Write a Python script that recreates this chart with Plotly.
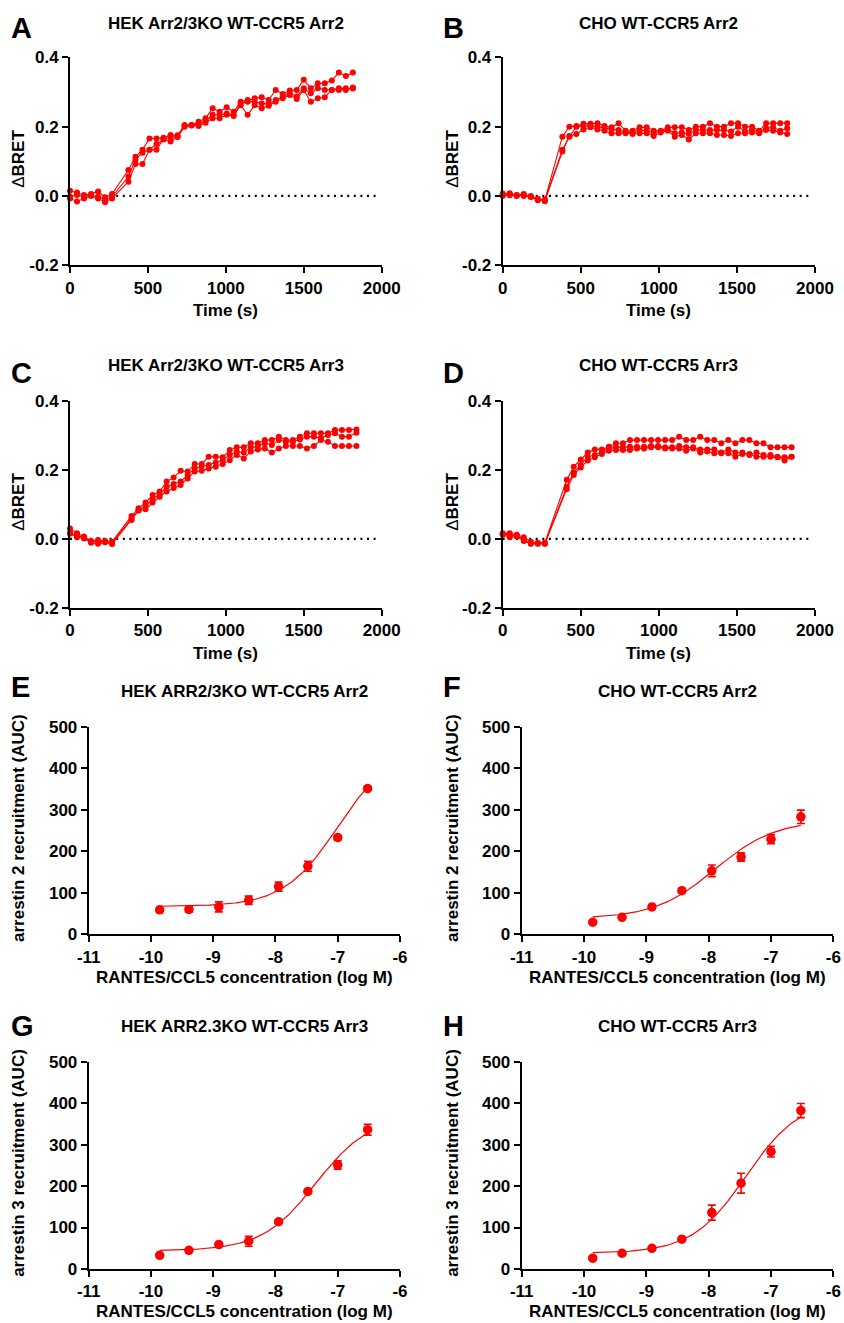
import numpy as np
import plotly.graph_objects as go

W, H = 844, 1323
RED = "#FF0000"
FONT = "Liberation Sans, Arial, sans-serif"

# ---------------- time-course data (time in s, delta BRET) ----------------
A_time = [0, 45, 90, 135, 180, 225, 270, 375, 420, 465, 510, 555, 600, 645, 690, 735, 780, 825, 870,
          915, 960, 1005, 1050, 1095, 1140, 1185, 1230, 1275, 1320, 1365, 1410, 1455, 1500, 1545,
          1590, 1635, 1680, 1725, 1770, 1815]
A_rep1 = [0.015, 0.010, 0.003, 0.006, 0.013, -0.004, 0.006,
          0.075, 0.113, 0.133, 0.166, 0.166, 0.168, 0.176, 0.175, 0.205, 0.205, 0.214, 0.224, 0.253,
          0.243, 0.256, 0.243, 0.272, 0.277, 0.282, 0.285, 0.277, 0.306, 0.294, 0.304, 0.306, 0.335,
          0.311, 0.325, 0.325, 0.333, 0.356, 0.346, 0.356]
A_rep2 = [-0.002, 0.003, -0.002, 0.003, -0.002, -0.010, -0.002,
          0.056, 0.104, 0.125, 0.133, 0.133, 0.165, 0.157, 0.171, 0.202, 0.203, 0.208, 0.217, 0.234,
          0.234, 0.238, 0.234, 0.267, 0.272, 0.272, 0.267, 0.265, 0.277, 0.287, 0.296, 0.287, 0.311,
          0.296, 0.311, 0.306, 0.306, 0.306, 0.306, 0.313]
A_rep3 = [-0.007, -0.016, -0.007, 0.000, -0.007, -0.018, -0.007,
          0.041, 0.092, 0.092, 0.133, 0.150, 0.163, 0.171, 0.170, 0.200, 0.204, 0.202, 0.211, 0.224,
          0.224, 0.234, 0.231, 0.262, 0.234, 0.262, 0.253, 0.260, 0.272, 0.282, 0.291, 0.280, 0.306,
          0.272, 0.282, 0.285, 0.306, 0.311, 0.311, 0.310]

B_time = [0, 45, 90, 135, 180, 225, 270, 382, 427, 472, 517, 562, 607, 652, 697, 742, 787, 832, 877,
          922, 967, 1012, 1057, 1102, 1147, 1192, 1237, 1282, 1327, 1372, 1417, 1462, 1507, 1552,
          1597, 1642, 1687, 1732, 1777, 1822]
B_rep1 = [0.007, 0.008, 0.002, 0.006, -0.003, -0.010, -0.012,
          0.171, 0.200, 0.202, 0.208, 0.208, 0.210, 0.202, 0.198, 0.210, 0.188, 0.188, 0.198, 0.198,
          0.188, 0.188, 0.198, 0.198, 0.198, 0.190, 0.200, 0.200, 0.210, 0.200, 0.200, 0.210, 0.210,
          0.200, 0.200, 0.188, 0.210, 0.210, 0.210, 0.210]
B_rep2 = [0.003, 0.005, 0.000, 0.002, -0.002, -0.012, -0.010,
          0.133, 0.171, 0.200, 0.202, 0.203, 0.200, 0.195, 0.192, 0.190, 0.183, 0.183, 0.190, 0.188,
          0.183, 0.186, 0.192, 0.181, 0.183, 0.179, 0.190, 0.190, 0.190, 0.190, 0.190, 0.186, 0.200,
          0.186, 0.190, 0.186, 0.195, 0.198, 0.188, 0.195]
B_rep3 = [0.000, 0.002, 0.003, 0.000, 0.000, -0.008, -0.015,
          0.128, 0.173, 0.179, 0.192, 0.198, 0.192, 0.188, 0.181, 0.181, 0.181, 0.179, 0.181, 0.181,
          0.173, 0.183, 0.188, 0.171, 0.176, 0.163, 0.181, 0.181, 0.181, 0.176, 0.176, 0.173, 0.181,
          0.181, 0.183, 0.181, 0.190, 0.188, 0.183, 0.179]

C_time = [0, 45, 90, 135, 180, 225, 270, 395, 440, 485, 530, 575, 620, 665, 710, 755, 800, 845, 890,
          935, 980, 1025, 1070, 1115, 1160, 1205, 1250, 1295, 1340, 1385, 1430, 1475, 1520, 1565,
          1610, 1655, 1700, 1745, 1790, 1838]
C_rep1 = [0.030, 0.016, 0.007, -0.006, -0.003, -0.006, -0.008,
          0.066, 0.089, 0.105, 0.127, 0.137, 0.166, 0.178, 0.197, 0.195, 0.217, 0.217, 0.238, 0.238,
          0.236, 0.257, 0.265, 0.265, 0.277, 0.277, 0.286, 0.286, 0.296, 0.286, 0.286, 0.296, 0.306,
          0.306, 0.306, 0.306, 0.315, 0.315, 0.315, 0.317]
C_rep2 = [0.018, 0.010, 0.003, -0.009, -0.009, -0.008, -0.011,
          0.060, 0.084, 0.095, 0.115, 0.130, 0.151, 0.159, 0.166, 0.185, 0.204, 0.209, 0.214, 0.221,
          0.228, 0.243, 0.253, 0.250, 0.265, 0.267, 0.277, 0.272, 0.286, 0.281, 0.281, 0.288, 0.296,
          0.296, 0.291, 0.301, 0.306, 0.296, 0.296, 0.307]
C_rep3 = [0.015, 0.005, 0.001, -0.011, -0.014, -0.010, -0.015,
          0.055, 0.082, 0.086, 0.105, 0.122, 0.137, 0.147, 0.156, 0.175, 0.195, 0.197, 0.204, 0.209,
          0.217, 0.228, 0.243, 0.233, 0.253, 0.259, 0.262, 0.250, 0.262, 0.269, 0.269, 0.269, 0.262,
          0.269, 0.286, 0.281, 0.269, 0.269, 0.269, 0.269]

D_time = [0, 45, 90, 135, 180, 225, 270, 410, 455, 500, 545, 590, 635, 680, 725, 770, 815, 860, 905,
          950, 995, 1040, 1085, 1130, 1175, 1220, 1265, 1310, 1355, 1400, 1445, 1490, 1535, 1580,
          1625, 1670, 1715, 1760, 1805, 1850]
D_rep1 = [0.016, 0.016, 0.012, 0.005, -0.008, -0.011, -0.011,
          0.171, 0.209, 0.230, 0.250, 0.259, 0.259, 0.267, 0.277, 0.277, 0.286, 0.286, 0.286, 0.286,
          0.286, 0.286, 0.286, 0.296, 0.286, 0.286, 0.296, 0.286, 0.286, 0.277, 0.286, 0.277, 0.286,
          0.286, 0.277, 0.277, 0.265, 0.265, 0.265, 0.265]
D_rep2 = [0.013, 0.012, 0.009, -0.001, -0.013, -0.013, -0.013,
          0.151, 0.192, 0.214, 0.238, 0.243, 0.253, 0.262, 0.265, 0.265, 0.267, 0.267, 0.267, 0.269,
          0.269, 0.265, 0.265, 0.269, 0.265, 0.265, 0.259, 0.259, 0.259, 0.250, 0.259, 0.250, 0.250,
          0.243, 0.250, 0.243, 0.243, 0.238, 0.236, 0.238]
D_rep3 = [0.012, 0.005, 0.007, -0.006, -0.014, -0.014, -0.014,
          0.144, 0.185, 0.207, 0.227, 0.236, 0.246, 0.255, 0.257, 0.257, 0.257, 0.262, 0.262, 0.265,
          0.265, 0.262, 0.262, 0.262, 0.255, 0.262, 0.250, 0.253, 0.248, 0.248, 0.248, 0.238, 0.246,
          0.246, 0.238, 0.238, 0.238, 0.236, 0.227, 0.238]

# ---------------- concentration-response data ----------------
log_conc = [-9.86, -9.39, -8.91, -8.43, -7.95, -7.48, -7.0, -6.52]
E_mean = [59, 60, 66, 82, 115, 164, 233, 351]
E_err = [3, 6, 12, 10, 11, 12, 5, 4]
F_mean = [29, 41, 66, 105, 153, 186, 229, 283]
F_err = [3, 3, 4, 4, 14, 10, 11, 16]
G_mean = [33, 45, 59, 67, 114, 187, 251, 336]
G_err = [3, 3, 4, 12, 4, 4, 10, 13]
H_mean = [26, 38, 50, 72, 136, 207, 283, 382]
H_err = [3, 3, 3, 4, 18, 24, 13, 17]

# fitted 4-parameter logistic curves: bottom, top, logEC50, hill
E_fit = [67, 450, -7.0, 1.0]
F_fit = [38, 275, -7.9, 0.9]
G_fit = [44, 370, -7.35, 1.0]
H_fit = [38, 410, -7.4, 1.0]

# ---------------- text ----------------
time_titles = ["HEK Arr2/3KO WT-CCR5 Arr2", "CHO WT-CCR5 Arr2",
               "HEK Arr2/3KO WT-CCR5 Arr3", "CHO WT-CCR5 Arr3"]
dose_titles = ["HEK ARR2/3KO WT-CCR5 Arr2", "CHO WT-CCR5 Arr2",
               "HEK ARR2.3KO WT-CCR5 Arr3", "CHO WT-CCR5 Arr3"]
dose_ylabels = ["arrestin 2 recruitment (AUC)", "arrestin 2 recruitment (AUC)",
                "arrestin 3 recruitment (AUC)", "arrestin 3 recruitment (AUC)"]
letters = ["A", "B", "C", "D", "E", "F", "G", "H"]
time_xticks = [0, 500, 1000, 1500, 2000]
time_yticks = [-0.2, 0.0, 0.2, 0.4]
time_yticktext = ["-0.2", "0.0", "0.2", "0.4"]
dose_xticks = [-11, -10, -9, -8, -7, -6]
dose_xticktext = ["-11", "-10", "-9", "-8", "-7", "-6"]
dose_yticks = [0, 100, 200, 300, 400, 500]

# ---------------- layout geometry (pixels) ----------------
boxes = [  # x0, x1, y0(top), y1(bottom)
    (70.0, 381.7, 57.3, 265.3),
    (502.7, 815.0, 57.3, 265.3),
    (70.0, 381.7, 400.7, 608.0),
    (502.7, 815.0, 400.7, 608.0),
    (88.7, 400.0, 726.7, 934.3),
    (521.7, 833.3, 726.7, 934.3),
    (88.7, 400.0, 1061.7, 1269.0),
    (521.7, 833.3, 1061.7, 1269.0),
]


def fx(p):
    return p / W


def fy(p):
    return 1 - p / H


fig = go.Figure()
annotations = []

tick_font = dict(family=FONT, size=17, color="black", weight="bold")


def axis_common():
    return dict(showgrid=False, zeroline=False, showline=True, linecolor="black", linewidth=2,
                ticks="outside", ticklen=6, tickwidth=2, tickcolor="black", tickfont=tick_font,
                fixedrange=True, automargin=False)


layout_axes = {}
time_sets = [
    (A_time, [A_rep1, A_rep2, A_rep3]),
    (B_time, [B_rep1, B_rep2, B_rep3]),
    (C_time, [C_rep1, C_rep2, C_rep3]),
    (D_time, [D_rep1, D_rep2, D_rep3]),
]
dose_sets = [
    (E_mean, E_err, E_fit),
    (F_mean, F_err, F_fit),
    (G_mean, G_err, G_fit),
    (H_mean, H_err, H_fit),
]

for i in range(8):
    n = i + 1
    xa = "x" if n == 1 else f"x{n}"
    ya = "y" if n == 1 else f"y{n}"
    x0, x1, y0, y1 = boxes[i]
    xkey = "xaxis" if n == 1 else f"xaxis{n}"
    ykey = "yaxis" if n == 1 else f"yaxis{n}"
    xd = [fx(x0), fx(x1)]
    yd = [fy(y1), fy(y0)]
    if i < 4:
        t, reps = time_sets[i]
        fig.add_trace(go.Scatter(x=[0, 1975], y=[0, 0], xaxis=xa, yaxis=ya, mode="lines",
                                 line=dict(color="black", width=2.2, dash="2px,4.6px"),
                                 hoverinfo="skip"))
        for r in reps:
            fig.add_trace(go.Scatter(x=t, y=r, xaxis=xa, yaxis=ya, mode="lines+markers",
                                     line=dict(color=RED, width=1.1),
                                     marker=dict(color=RED, size=6),
                                     cliponaxis=False))
        layout_axes[xkey] = dict(axis_common(), domain=xd, anchor=ya, range=[0, 2000],
                                 tickvals=time_xticks, ticktext=[str(v) for v in time_xticks])
        layout_axes[ykey] = dict(axis_common(), domain=yd, anchor=xa, range=[-0.2, 0.4],
                                 tickvals=time_yticks, ticktext=time_yticktext)
        title = time_titles[i]
        xtitle = "Time (s)"
        ytitle = "<span style='font-weight:normal'>\u0394</span>BRET"
    else:
        mean, err, fit = dose_sets[i - 4]
        bottom, top, ec50, hill = fit
        cx = np.linspace(log_conc[0], log_conc[-1], 150)
        cy = bottom + (top - bottom) / (1 + 10 ** ((ec50 - cx) * hill))
        fig.add_trace(go.Scatter(x=cx, y=cy, xaxis=xa, yaxis=ya, mode="lines",
                                 line=dict(color=RED, width=1.2), hoverinfo="skip"))
        fig.add_trace(go.Scatter(x=log_conc, y=mean, xaxis=xa, yaxis=ya, mode="markers",
                                 marker=dict(color=RED, size=9.5),
                                 error_y=dict(type="data", array=err, visible=True, color=RED,
                                              thickness=1.6, width=4),
                                 cliponaxis=False))
        layout_axes[xkey] = dict(axis_common(), domain=xd, anchor=ya, range=[-11, -6],
                                 tickvals=dose_xticks, ticktext=dose_xticktext)
        layout_axes[ykey] = dict(axis_common(), domain=yd, anchor=xa, range=[0, 500],
                                 tickvals=dose_yticks, ticktext=[str(v) for v in dose_yticks])
        title = dose_titles[i - 4]
        xtitle = "RANTES/CCL5 concentration (log M)"
        ytitle = dose_ylabels[i - 4]

    cxp = (x0 + x1) / 2
    left_col = (i % 2 == 0)
    title_y = {0: 23, 1: 23, 2: 366, 3: 366, 4: 691.7, 5: 691.7, 6: 1026.7, 7: 1026.7}[i]
    letter_y = {0: 28.5, 1: 28.5, 2: 373, 3: 373, 4: 686.5, 5: 686.5, 6: 1025.5, 7: 1025.5}[i]
    xt_y = {0: 310.5, 1: 310.5, 2: 654, 3: 654, 4: 977.5, 5: 977.5, 6: 1311, 7: 1311}[i]
    letter_x = 8.5 if left_col else 441.0
    ytitle_x = 18.5 if left_col else 452.5

    annotations.append(dict(text=title, x=fx(cxp), y=fy(title_y), xref="paper", yref="paper",
                            xanchor="center", yanchor="middle", showarrow=False,
                            font=dict(family=FONT, size=17, color="black", weight="bold")))
    annotations.append(dict(text=letters[i], x=fx(letter_x), y=fy(letter_y), xref="paper",
                            yref="paper", xanchor="left", yanchor="middle", showarrow=False,
                            font=dict(family=FONT, size=29, color="black", weight="bold")))
    annotations.append(dict(text=xtitle, x=fx(cxp), y=fy(xt_y), xref="paper", yref="paper",
                            xanchor="center", yanchor="middle", showarrow=False,
                            font=dict(family=FONT, size=17, color="black", weight="bold")))
    annotations.append(dict(text=ytitle, x=fx(ytitle_x), y=fy((y0 + y1) / 2 - 2), xref="paper",
                            yref="paper", xanchor="center", yanchor="middle", showarrow=False,
                            textangle=-90,
                            font=dict(family=FONT, size=17, color="black", weight="bold")))

fig.update_layout(
    width=W, height=H,
    margin=dict(l=0, r=0, t=0, b=0, autoexpand=False),
    paper_bgcolor="white", plot_bgcolor="white",
    showlegend=False,
    hovermode=False,
    annotations=annotations,
    **layout_axes,
)

fig.write_html(
    "out.html",
    config={"displayModeBar": False, "staticPlot": True},
    post_script="document.body.style.margin='0';document.body.style.padding='0';"
                "document.body.style.overflow='hidden';",
)
